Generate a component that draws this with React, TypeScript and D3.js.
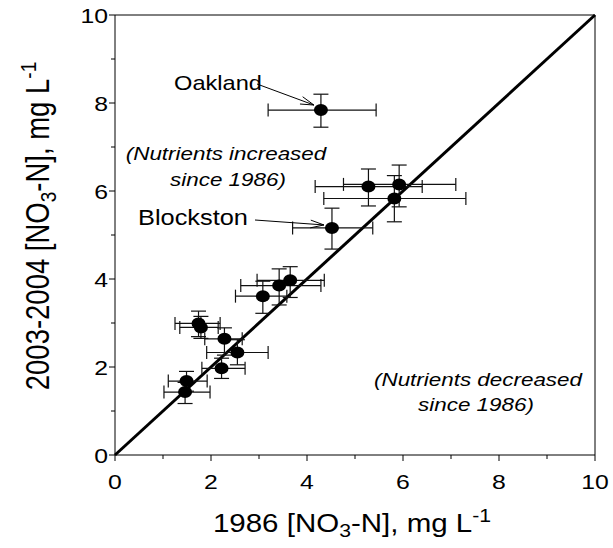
import React from "react";
import * as d3 from "d3";

const sites = ["Oakland", "Blockston", "s3", "s4", "s5", "s6", "s7", "s8", "s9", "s10", "s11", "s12", "s13", "s14", "s15"];
const x1986 = [4.29, 4.52, 5.28, 5.92, 5.82, 3.08, 3.42, 3.65, 1.74, 1.79, 2.28, 2.55, 2.22, 1.49, 1.46];
const x1986Lo = [3.19, 3.70, 4.17, 4.76, 4.35, 2.51, 2.62, 2.96, 1.25, 1.35, 1.87, 1.91, 1.81, 1.11, 1.02];
const x1986Hi = [5.44, 5.37, 6.40, 7.10, 7.31, 3.58, 4.29, 4.36, 2.19, 2.15, 2.65, 3.19, 2.71, 1.92, 1.98];
const y2003 = [7.84, 5.16, 6.10, 6.15, 5.83, 3.61, 3.85, 3.97, 2.99, 2.90, 2.64, 2.33, 1.97, 1.68, 1.43];
const y2003Lo = [7.45, 4.68, 5.66, 5.64, 5.30, 3.22, 3.41, 3.58, 2.69, 2.65, 2.27, 2.05, 1.74, 1.45, 1.17];
const y2003Hi = [8.20, 5.61, 6.50, 6.59, 6.35, 3.95, 4.23, 4.28, 3.27, 3.15, 2.89, 2.62, 2.20, 1.90, 1.65];
const majorTicks = [0, 2, 4, 6, 8, 10];
const minorTicks = [1, 3, 5, 7, 9];

const FONT = "'Liberation Sans', Arial, sans-serif";
const SX = 1.18;

function SText({ x, y, anchor = "middle", size, italic = false, children }: any) {
  return (
    <text
      transform={`translate(${x},${y}) scale(${SX},1)`}
      textAnchor={anchor}
      fontSize={size}
      fontStyle={italic ? "italic" : "normal"}
      fontFamily={FONT}
      fill="#000"
    >
      {children}
    </text>
  );
}

export default function App() {
  const W = 613, H = 548;
  const x = d3.scaleLinear().domain([0, 10]).range([115, 595]);
  const y = d3.scaleLinear().domain([0, 10]).range([455, 15]);
  const line = d3.line<number>().x((v) => x(v)).y((v) => y(v));
  const capX = 6.5, capY = 7.5;

  const arrow = (x0: number, y0: number, x1: number, y1: number) => {
    const a = Math.atan2(y1 - y0, x1 - x0);
    const L = 14, sp = 0.28;
    const p1 = [x1 - L * Math.cos(a - sp), y1 - L * Math.sin(a - sp)];
    const p2 = [x1 - L * Math.cos(a + sp), y1 - L * Math.sin(a + sp)];
    return (
      <g stroke="#000" strokeWidth={1} fill="none">
        <line x1={x0} y1={y0} x2={x1} y2={y1} />
        <polyline points={`${p1[0]},${p1[1]} ${x1},${y1} ${p2[0]},${p2[1]}`} />
      </g>
    );
  };

  const oak = 0, blk = 1;

  return (
    <svg width={W} height={H} style={{ position: "absolute", left: 0, top: 0, background: "#fff" }}>
      {/* frame */}
      <g stroke="#000" strokeWidth={1} fill="none">
        <line x1={x(0)} y1={y(0)} x2={x(10)} y2={y(0)} />
        <line x1={x(0)} y1={y(0)} x2={x(0)} y2={y(10)} />
        <line x1={x(10)} y1={y(0)} x2={x(10)} y2={y(10)} />
        <line x1={x(0)} y1={y(10)} x2={x(10)} y2={y(10)} />
      </g>
      {/* ticks */}
      <g stroke="#000" strokeWidth={1}>
        {majorTicks.map((t) => (
          <line key={"xm" + t} x1={x(t)} x2={x(t)} y1={y(0)} y2={y(0) + 6} />
        ))}
        {minorTicks.map((t) => (
          <line key={"xn" + t} x1={x(t)} x2={x(t)} y1={y(0)} y2={y(0) + 4} />
        ))}
        {majorTicks.map((t) => (
          <line key={"ym" + t} y1={y(t)} y2={y(t)} x1={x(0)} x2={x(0) - 6} />
        ))}
        {minorTicks.map((t) => (
          <line key={"yn" + t} y1={y(t)} y2={y(t)} x1={x(0)} x2={x(0) - 4} />
        ))}
      </g>
      {majorTicks.map((t) => (
        <SText key={"xl" + t} x={x(t)} y={489} size={21}>
          {t}
        </SText>
      ))}
      {majorTicks.map((t) => (
        <SText key={"yl" + t} x={108} y={y(t) + 7.5} size={21} anchor="end">
          {t}
        </SText>
      ))}
      {/* axis titles */}
      <SText x={352} y={532} size={25}>
        1986 [NO<tspan fontSize={18} dy={5}>3</tspan>
        <tspan dy={-5}>-N], mg L</tspan>
        <tspan fontSize={18} dy={-10}>-1</tspan>
      </SText>
      <text
        transform={`translate(49,226) rotate(-90) scale(1,${SX})`}
        textAnchor="middle"
        fontSize={27.5}
        fontFamily={FONT}
        fill="#000"
      >
        2003-2004 [NO<tspan fontSize={19} dy={6}>3</tspan>
        <tspan dy={-6}>-N], mg L</tspan>
        <tspan fontSize={19} dy={-11}>-1</tspan>
      </text>

      {/* 1:1 line */}
      <path d={line([0, 10]) || ""} stroke="#000" strokeWidth={3} fill="none" />

      {/* error bars */}
      <g stroke="#111" strokeWidth={1.2} fill="none">
        {sites.map((s, i) => (
          <g key={"e" + s}>
            <line x1={x(x1986Lo[i])} x2={x(x1986Hi[i])} y1={y(y2003[i])} y2={y(y2003[i])} />
            <line x1={x(x1986Lo[i])} x2={x(x1986Lo[i])} y1={y(y2003[i]) - capX} y2={y(y2003[i]) + capX} />
            <line x1={x(x1986Hi[i])} x2={x(x1986Hi[i])} y1={y(y2003[i]) - capX} y2={y(y2003[i]) + capX} />
            <line x1={x(x1986[i])} x2={x(x1986[i])} y1={y(y2003Lo[i])} y2={y(y2003Hi[i])} />
            <line x1={x(x1986[i]) - capY} x2={x(x1986[i]) + capY} y1={y(y2003Lo[i])} y2={y(y2003Lo[i])} />
            <line x1={x(x1986[i]) - capY} x2={x(x1986[i]) + capY} y1={y(y2003Hi[i])} y2={y(y2003Hi[i])} />
          </g>
        ))}
      </g>
      {sites.map((s, i) => (
        <ellipse key={"p" + s} cx={x(x1986[i])} cy={y(y2003[i])} rx={7} ry={6} fill="#000" />
      ))}

      {/* annotations */}
      <SText x={218} y={90} size={20}>{sites[oak]}</SText>
      {arrow(257, 84, x(x1986[oak]) - 7, y(y2003[oak]) - 5)}
      <SText x={193} y={225} size={21.5}>{sites[blk]}</SText>
      {arrow(255, 220, x(x1986[blk]) - 8, y(y2003[blk]) - 3)}

      <SText x={226} y={160} size={19} italic>(Nutrients increased</SText>
      <SText x={228} y={186} size={19} italic>since 1986)</SText>
      <SText x={478} y={386} size={19} italic>(Nutrients decreased</SText>
      <SText x={476} y={411} size={19} italic>since 1986)</SText>
    </svg>
  );
}
